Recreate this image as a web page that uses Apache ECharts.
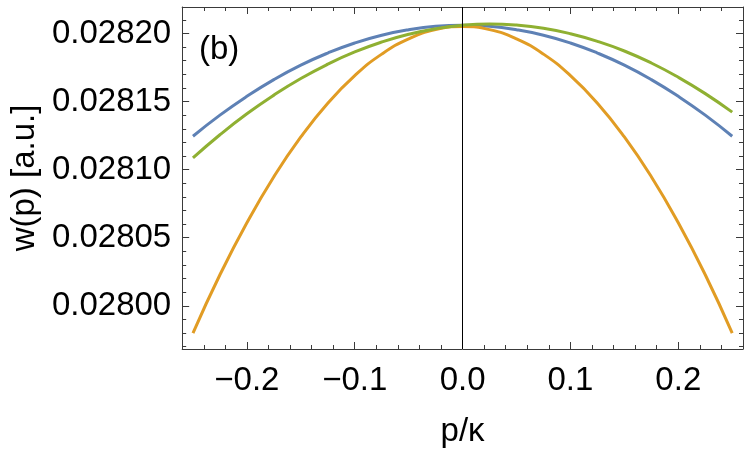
<!DOCTYPE html>
<html>
<head>
<meta charset="utf-8">
<script src="https://cdn.jsdelivr.net/npm/echarts@6/dist/echarts.min.js"></script>
<style>
  html, body { margin: 0; padding: 0; background: #fff; }
  #chart { width: 750px; height: 453px; }
</style>
</head>
<body>
<div id="chart"></div>
<script>
// p/kappa sample points
const pValues = [-0.25, -0.225, -0.2, -0.175, -0.15, -0.125, -0.1, -0.075, -0.05, -0.025, 0,
  0.025, 0.05, 0.075, 0.1, 0.125, 0.15, 0.175, 0.2, 0.225, 0.25];

// w(p)
const blueW = [0.0281245, 0.0281400, 0.0281538, 0.0281661, 0.0281767, 0.0281856, 0.0281930, 0.0281987, 0.0282027, 0.0282052, 0.0282060,
  0.0282052, 0.0282027, 0.0281987, 0.0281930, 0.0281856, 0.0281767, 0.0281661, 0.0281538, 0.0281400, 0.0281245];
const orangeW = [0.0279800, 0.0280228, 0.0280610, 0.0280948, 0.0281240, 0.0281488, 0.0281690, 0.0281848, 0.0281960, 0.0282028, 0.0282050,
  0.0282028, 0.0281960, 0.0281848, 0.0281690, 0.0281488, 0.0281240, 0.0280948, 0.0280610, 0.0280228, 0.0279800];
const greenW = [0.0281086, 0.0281256, 0.0281410, 0.0281547, 0.0281669, 0.0281774, 0.0281864, 0.0281937, 0.0281994, 0.0282035, 0.0282060,
  0.0282069, 0.0282061, 0.0282038, 0.0281998, 0.0281942, 0.0281871, 0.0281783, 0.0281678, 0.0281558, 0.0281422];

// ticks
const xMajor = [-0.2, -0.1, 0, 0.1, 0.2];
const xMinor = [-0.24, -0.22, -0.18, -0.16, -0.14, -0.12, -0.08, -0.06, -0.04, -0.02,
  0.02, 0.04, 0.06, 0.08, 0.12, 0.14, 0.16, 0.18, 0.22, 0.24];
const yMajor = [0.0280, 0.02805, 0.0281, 0.02815, 0.0282];
const yMinor = [0.02797, 0.02798, 0.02799, 0.02801, 0.02802, 0.02803, 0.02804, 0.02806, 0.02807, 0.02808, 0.02809,
  0.02811, 0.02812, 0.02813, 0.02814, 0.02816, 0.02817, 0.02818, 0.02819, 0.02821];

const X_MIN = -0.26, X_MAX = 0.26;
const Y_MIN = 0.0279683, Y_MAX = 0.0282194;
const FONT = 'Liberation Sans';
const FRAME = '#3a3a3a';

const chart = echarts.init(document.getElementById('chart'), null, { renderer: 'canvas' });

function xAx(pos, ticks, len, labels, line) {
  return {
    type: 'value', position: pos, min: X_MIN, max: X_MAX,
    axisLine: { show: line, onZero: false, lineStyle: { color: FRAME, width: 1 } },
    axisTick: { show: true, inside: true, length: len, customValues: ticks, lineStyle: { color: FRAME } },
    axisLabel: labels ? {
      show: true, customValues: ticks, margin: 15, color: '#000', fontFamily: FONT, fontSize: 33,
      formatter: v => (Math.abs(v) < 1e-9 ? '0.0' : v.toFixed(1).replace('-', '\u2212'))
    } : { show: false },
    splitLine: { show: false }
  };
}
function yAx(pos, ticks, len, labels, line) {
  return {
    type: 'value', position: pos, min: Y_MIN, max: Y_MAX,
    axisLine: { show: line, onZero: false, lineStyle: { color: FRAME, width: 1 } },
    axisTick: { show: true, inside: true, length: len, customValues: ticks, lineStyle: { color: FRAME } },
    axisLabel: labels ? {
      show: true, customValues: ticks, margin: 11, color: '#000', fontFamily: FONT, fontSize: 33,
      formatter: v => v.toFixed(5)
    } : { show: false },
    splitLine: { show: false }
  };
}

const xMain = xAx('bottom', xMajor, 7, true, true);
xMain.name = 'p/\u03ba';
xMain.nameLocation = 'middle';
xMain.nameGap = 66;
xMain.nameTextStyle = { color: '#000', fontFamily: FONT, fontSize: 33 };

const yMain = yAx('left', yMajor, 7, true, true);
yMain.name = 'w(p) [a.u.]';
yMain.nameLocation = 'middle';
yMain.nameGap = 141;
yMain.nameTextStyle = { color: '#000', fontFamily: FONT, fontSize: 33 };

function mk(name, color, vals) {
  return {
    name: name, type: 'line', xAxisIndex: 0, yAxisIndex: 0,
    data: pValues.map((p, i) => [p, vals[i]]),
    smooth: true, showSymbol: false, symbol: 'none',
    lineStyle: { color: color, width: 3 },
    itemStyle: { color: color },
    silent: true
  };
}

const blue = mk('blue', '#5E81B5', blueW);
blue.markLine = {
  silent: true, symbol: 'none', label: { show: false },
  lineStyle: { color: '#000', width: 1, type: 'solid' },
  data: [{ xAxis: 0 }]
};

chart.setOption({
  animation: false,
  backgroundColor: '#fff',
  grid: { left: 177, right: 7, top: 7, bottom: 97, containLabel: false },
  xAxis: [
    xMain,
    xAx('bottom', xMinor, 4, false, false),
    xAx('top', xMajor, 7, false, true),
    xAx('top', xMinor, 4, false, false)
  ],
  yAxis: [
    yMain,
    yAx('left', yMinor, 4, false, false),
    yAx('right', yMajor, 7, false, true),
    yAx('right', yMinor, 4, false, false)
  ],
  graphic: [{
    type: 'text', left: 199, top: 33,
    style: { text: '(b)', fontFamily: FONT, fontSize: 33, fill: '#000' }
  }],
  series: [
    blue,
    mk('orange', '#E19C24', orangeW),
    mk('green', '#8FB032', greenW)
  ]
});
</script>
</body>
</html>
